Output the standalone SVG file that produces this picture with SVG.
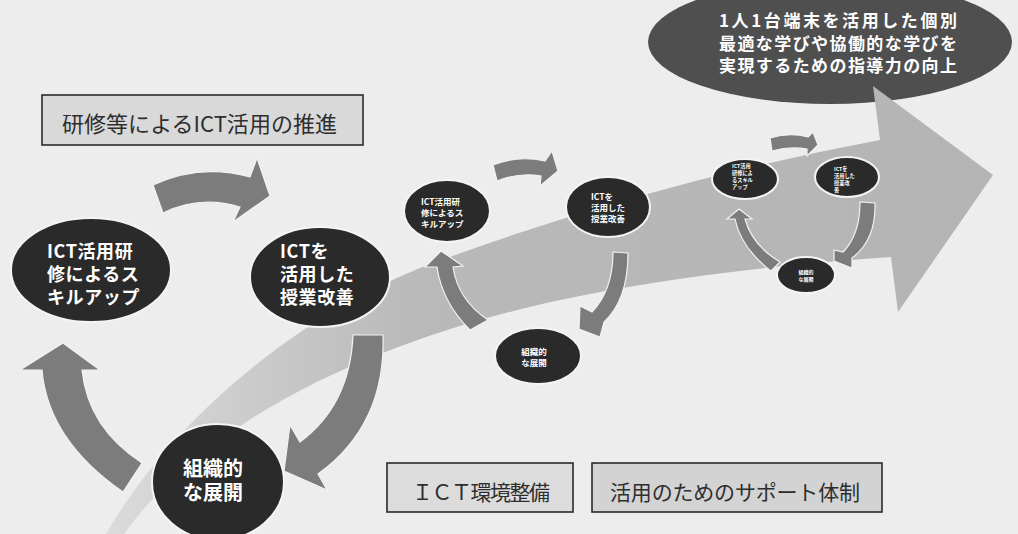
<svg xmlns="http://www.w3.org/2000/svg" width="1018" height="534" viewBox="0 0 1018 534">
<defs>
<linearGradient id="swoosh" x1="100" y1="0" x2="1000" y2="0" gradientUnits="userSpaceOnUse">
<stop offset="0" stop-color="#dcdcdc"/>
<stop offset="0.35" stop-color="#b9b9b9"/>
<stop offset="1" stop-color="#b4b4b4"/>
</linearGradient>
<style>
.bg{fill:#ededed}
.node{fill:#2a2a2a;stroke:#f4f4f4;stroke-width:2}
.goal{fill:#4f4f4f}
.arrow{fill:#7c7c7c;stroke:#f2f2f2;stroke-width:1.2;stroke-linejoin:miter}
.wt{fill:#ffffff;font-family:"Noto Sans CJK JP","Noto Sans",sans-serif;font-weight:700}
.lg{font-size:18px;letter-spacing:0.6px}
.bx{stroke:#2a2a2a;stroke-width:1.6}
.bt{fill:#2e2e2e;font-family:"Noto Sans CJK JP","Noto Sans",sans-serif;font-weight:400}
</style>
</defs>
<rect class="bg" x="0" y="0" width="1018" height="534"/>

<g id="goal">
<ellipse class="goal" cx="830" cy="42" rx="182" ry="62"/>
<text class="wt" font-size="17"><tspan x="719" y="27" textLength="238">1人1台端末を活用した個別</tspan><tspan x="719" y="50" textLength="238">最適な学びや協働的な学びを</tspan><tspan x="719" y="72" textLength="238">実現するための指導力の向上</tspan></text>
</g>

<g id="progress-arrow">
<path fill="url(#swoosh)" d="M 106,534 C 160,440 270,330 420,268 Q 640,185 880,140 L 873,86 L 993,175 L 898,312 L 891,257 Q 700,270 560,300 C 420,330 220,400 124,534 Z"/>
</g>

<g id="connectors">
<path class="arrow" d="M 153,185 Q 200,163 250,177 L 257,158 L 270,196 L 233,222 L 240,207 Q 200,195 163,213 Z"/>
<path class="arrow" d="M 353,335 L 383,335 Q 386,425 318,474 L 327,490 L 284,471 L 290,425 L 300,442 Q 350,405 353,335 Z"/>
<path class="arrow" d="M 142,463 L 123,492 Q 48,440 42,370 L 20,370 L 63,343 L 100,370 L 82,370 Q 88,428 142,463 Z"/>
<path class="arrow" d="M 493,165 Q 518,155 545,161 L 552,151 L 558,171 L 540,186 L 541,176 Q 520,172 497,181 Z"/>
<path class="arrow" d="M 613,252 L 628,253 Q 628,300 604,322 L 600,337 L 579,329 L 580,306 L 592,312 Q 613,290 613,252 Z"/>
<path class="arrow" d="M 488,320 L 470,330 Q 442,302 437,267 L 425,267 L 441,251 L 463,266 L 453,267 Q 458,300 488,320 Z"/>
<path class="arrow" d="M 770,138 Q 790,132 808,137 L 813,132 L 818,145 L 807,156 L 807,149 Q 790,146 772,151 Z"/>
<path class="arrow" d="M 860,202 L 875,203 Q 876,240 852,258 L 852,268 L 834,261 L 834,250 L 843,252 Q 860,235 860,202 Z"/>
<path class="arrow" d="M 780,262 L 771,271 Q 741,248 735,219 L 727,219 L 739,209 L 752,219 L 745,219 Q 752,245 780,262 Z"/>
</g>

<g id="skillup-large">
<ellipse class="node" cx="91" cy="270" rx="80" ry="52"/>
<text class="wt lg"><tspan x="47" y="258">ICT活用研</tspan><tspan x="47" y="281">修によるス</tspan><tspan x="47" y="304">キルアップ</tspan></text>
</g>
<g id="kaizen-large">
<ellipse class="node" cx="320" cy="277" rx="70" ry="50"/>
<text class="wt lg"><tspan x="280" y="258">ICTを</tspan><tspan x="280" y="281">活用した</tspan><tspan x="280" y="304">授業改善</tspan></text>
</g>
<g id="tenkai-large">
<ellipse class="node" cx="218" cy="482" rx="66" ry="58"/>
<text class="wt" font-size="20" text-anchor="middle"><tspan x="213" y="476">組織的</tspan><tspan x="213" y="500">な展開</tspan></text>
</g>

<g id="skillup-medium">
<ellipse class="node" cx="447" cy="211" rx="43" ry="31"/>
<text class="wt" font-size="8.5"><tspan x="421" y="205">ICT活用研</tspan><tspan x="421" y="216">修によるス</tspan><tspan x="421" y="227">キルアップ</tspan></text>
</g>
<g id="kaizen-medium">
<ellipse class="node" cx="608" cy="207" rx="42" ry="30"/>
<text class="wt" font-size="8.5"><tspan x="591" y="200">ICTを</tspan><tspan x="591" y="211">活用した</tspan><tspan x="591" y="222">授業改善</tspan></text>
</g>
<g id="tenkai-medium">
<ellipse class="node" cx="538" cy="356" rx="43" ry="28"/>
<text class="wt" font-size="8.5" text-anchor="middle"><tspan x="534" y="355">組織的</tspan><tspan x="534" y="366">な展開</tspan></text>
</g>

<g id="skillup-small">
<ellipse class="node" cx="745" cy="179" rx="33" ry="20"/>
<text class="wt" font-size="5.2"><tspan x="732" y="168">ICT活用</tspan><tspan x="732" y="175">研修によ</tspan><tspan x="732" y="182">るスキル</tspan><tspan x="732" y="189">アップ</tspan></text>
</g>
<g id="kaizen-small">
<ellipse class="node" cx="847" cy="177" rx="32" ry="20"/>
<text class="wt" font-size="5.2"><tspan x="834" y="171">ICTを</tspan><tspan x="834" y="178">活用した</tspan><tspan x="834" y="185">授業改</tspan><tspan x="834" y="192">善</tspan></text>
</g>
<g id="tenkai-small">
<ellipse class="node" cx="806" cy="275" rx="29" ry="18"/>
<text class="wt" font-size="5" text-anchor="middle"><tspan x="806" y="274">組織的</tspan><tspan x="806" y="281">な展開</tspan></text>
</g>

<g id="box-training">
<rect class="bx" x="42" y="95" width="321" height="50" fill="#d9d9d9"/>
<text class="bt" font-size="22" x="62" y="132" textLength="275">研修等によるICT活用の推進</text>
</g>
<g id="box-environment">
<rect class="bx" x="387" y="463" width="186" height="49" fill="#dcdcdc"/>
<text class="bt" font-size="21" x="412" y="500" textLength="138">ＩＣＴ環境整備</text>
</g>
<g id="box-support">
<rect class="bx" x="592" y="463" width="290" height="49" fill="#d3d3d3"/>
<text class="bt" font-size="21" x="610" y="500" textLength="250">活用のためのサポート体制</text>
</g>
</svg>
